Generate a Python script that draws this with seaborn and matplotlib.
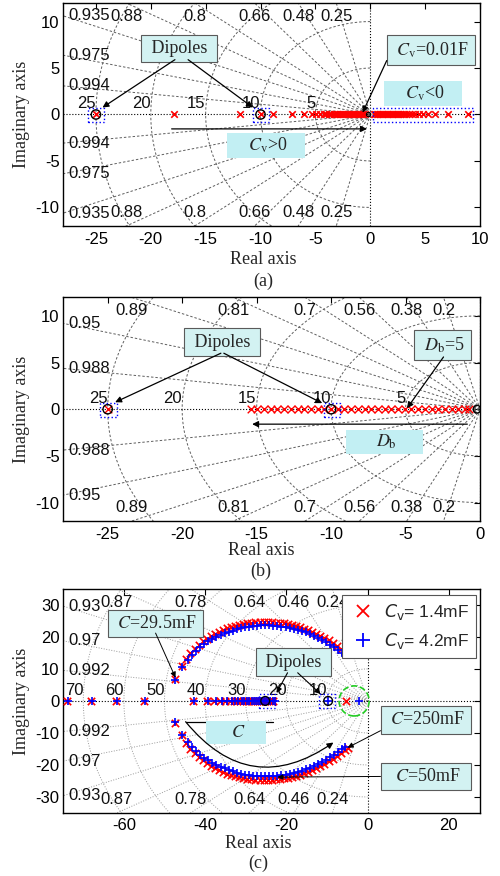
import numpy as np
import matplotlib
matplotlib.use("Agg")
import matplotlib.pyplot as plt
import seaborn as sns
from matplotlib.lines import Line2D
from matplotlib.patches import Rectangle, Ellipse
from matplotlib.font_manager import FontProperties

# ---------------- data ----------------
# (a) pole locus for varying Cv (real poles)
a_locus_left = [-17.9, -11.9, -8.9, -7.1, -6.0, -5.3, -4.9, -4.55, -4.25, -4.0, -3.75,
                -3.55, -3.35, -3.2, -3.05, -2.9, -2.75, -2.6, -2.45, -2.3, -2.15, -2.0,
                -1.85, -1.7, -1.55, -1.4, -1.25, -1.1, -0.95, -0.8, -0.65, -0.5]
a_locus_right = [0.3, 0.45, 0.6, 0.75, 0.9, 1.05, 1.2, 1.35, 1.5, 1.65, 1.8, 1.95, 2.1,
                 2.25, 2.4, 2.55, 2.7, 2.9, 3.1, 3.3, 3.55, 3.8, 4.1, 4.45, 4.85, 5.3,
                 5.9, 7.1, 8.9]
a_dipole_poles = [-25.0, -10.0]
a_dipole_zeros = [-25.0, -10.0]

# (b) pole locus for varying Db
b_locus = [-15.4, -14.95, -14.5, -14.05, -13.6, -13.15, -12.7, -12.25, -11.8, -11.35,
           -10.9, -10.45, -10.0, -9.55, -9.1, -8.65, -8.2, -7.75, -7.3, -6.85, -6.4,
           -5.95, -5.5, -5.05, -4.6, -4.15, -3.7, -3.25, -2.8, -2.35, -1.9, -1.45,
           -1.0, -0.75]
b_dipole_poles = [-25.0]
b_dipole_zeros = [-25.0, -10.0]

# (c) pole locus for varying C, two values of Cv
c_real_red = [-74, -68, -62, -55, -43, -39.5, -37.8, -36.3, -35.0, -33.9, -33.0, -32.2,
              -31.4, -30.7, -30.0, -29.4, -28.8, -28.2, -27.7, -27.2, -26.7, -26.2,
              -25.7, -25.2, -24.7, -24.2, -23.7, -23.2, -5.2]
c_real_blue = [-73.8, -67.8, -61.8, -54.8, -42.8, -39.3, -37.4, -35.9, -34.6, -33.5,
               -32.6, -31.8, -31.0, -30.3, -29.7, -29.1, -28.5, -27.9, -27.4, -26.9,
               -26.4, -25.9, -25.4, -24.9, -24.4, -23.9, -23.4, -22.9, -9.8, -2.0]
c_arc_red_x = [-47.5, -45.8, -44.6, -43.6, -42.6, -41.6, -40.6, -39.6, -38.6, -37.6,
               -36.6, -35.6, -34.6, -33.6, -32.6, -31.6, -30.6, -29.6, -28.6, -27.6,
               -26.6, -25.6, -24.6, -23.6, -22.6, -21.6, -20.6, -19.6, -18.6, -17.6,
               -16.6, -15.6, -14.6, -13.6, -12.6, -11.6, -10.6, -9.6, -8.6, -7.6,
               -6.6, -5.6, -4.9]
c_arc_red_y = [6.8, 10.8, 13.2, 14.9, 16.3, 17.5, 18.6, 19.5, 20.3, 21.0, 21.6, 22.2,
               22.7, 23.1, 23.5, 23.8, 24.1, 24.3, 24.5, 24.6, 24.7, 24.7, 24.7, 24.6,
               24.5, 24.4, 24.2, 24.0, 23.7, 23.4, 23.0, 22.6, 22.1, 21.6, 21.0, 20.4,
               19.7, 18.9, 18.1, 17.2, 16.3, 15.3, 14.6]
c_arc_blue_x = [-47.3, -45.6, -44.3, -43.2, -42.2, -41.2, -40.2, -39.2, -38.2, -37.2,
                -36.2, -35.2, -34.2, -33.2, -32.2, -31.2, -30.2, -29.2, -28.2, -27.2,
                -26.2, -25.2, -24.2, -23.2, -22.2, -21.2, -20.2, -19.2, -18.2, -17.2,
                -16.2, -15.2, -14.2, -13.2, -12.2, -11.2, -10.2, -9.2, -8.2, -7.2,
                -6.2, -5.5]
c_arc_blue_y = [6.6, 10.5, 12.8, 14.4, 15.7, 16.8, 17.8, 18.6, 19.3, 20.0, 20.6, 21.1,
                21.6, 22.0, 22.4, 22.7, 23.0, 23.2, 23.4, 23.5, 23.6, 23.6, 23.6, 23.5,
                23.4, 23.2, 23.0, 22.8, 22.5, 22.2, 21.8, 21.4, 20.9, 20.4, 19.8, 19.1,
                18.4, 17.6, 16.8, 15.9, 15.0, 14.3]
c_dipole_zeros = [-25.2, -9.7]

# sgrid values (damping ratios and natural frequencies)
a_zetas = [0.25, 0.48, 0.66, 0.8, 0.88, 0.935, 0.975, 0.994]
a_wns = [5, 10, 15, 20, 25]
b_zetas = [0.2, 0.38, 0.56, 0.7, 0.81, 0.89, 0.95, 0.988]
b_wns = [5, 10, 15, 20, 25]
c_zetas = [0.24, 0.46, 0.64, 0.78, 0.87, 0.93, 0.97, 0.992]
c_wns = [10, 20, 30, 40, 50, 60, 70]

RED = "#ff0000"
BLUE = "#0000ff"
BOX_FC = "#d3f2f2"
BOX_EC = "#5a5a5a"
TXT_BG = "#c2eff3"
SERIF = "Liberation Serif"
FS_TICK = 12
FS_LAB = 13

sns.set_theme(style="white")
plt.rcParams["font.family"] = ["Liberation Sans", "DejaVu Sans"]
plt.rcParams["mathtext.fontset"] = "stix"
plt.rcParams["axes.unicode_minus"] = False
plt.rcParams["axes.edgecolor"] = "black"
plt.rcParams["axes.linewidth"] = 1.0


def sgrid(ax, zetas, wns, xlim, ylim, ls, color):
    R = 300
    for z in zetas:
        s = np.sqrt(1 - z ** 2)
        ax.plot([0, -z * R], [0, s * R], ls=ls, color=color, lw=0.7, zorder=1)
        ax.plot([0, -z * R], [0, -s * R], ls=ls, color=color, lw=0.7, zorder=1)
        xt = -z / s * ylim[1]
        if xt >= xlim[0]:
            for sgn in (1, -1):
                ax.text(xt, sgn * 0.88 * ylim[1], f"{z:g}", ha="center", va="center",
                        fontsize=FS_TICK, color="#111111", zorder=2)
        else:
            yl = s / z * (-xlim[0])
            for sgn in (1, -1):
                ax.text(xlim[0] + 0.012 * (xlim[1] - xlim[0]), sgn * yl, f"{z:g}",
                        ha="left", va="center", fontsize=FS_TICK, color="#111111",
                        zorder=2)
    t = np.linspace(np.pi / 2, 3 * np.pi / 2, 300)
    for w in wns:
        ax.plot(w * np.cos(t), w * np.sin(t), ls=ls, color=color, lw=0.7, zorder=1)
        ax.text(-w, 0.015 * (ylim[1] - ylim[0]), f"{w:g}", ha="right", va="bottom",
                fontsize=FS_TICK, color="#111111", zorder=2)
    ax.axhline(0, ls=":", color="black", lw=0.8, zorder=1)
    ax.axvline(0, ls=":", color="black", lw=0.8, zorder=1)


def setup(ax, xlim, ylim, xticks, yticks, xlab_pos, ylab_x=-0.078):
    ax.set_xlim(xlim)
    ax.set_ylim(ylim)
    ax.set_xticks(xticks)
    ax.set_yticks(yticks)
    ax.tick_params(direction="in", top=True, right=True, length=4, width=0.8,
                   labelsize=FS_TICK, colors="black")
    ax.tick_params(axis="x", pad=4)
    ax.tick_params(axis="y", pad=2.5)
    ax.set_xlabel("Real axis", family=SERIF, fontsize=FS_LAB)
    ax.set_ylabel("Imaginary axis", family=SERIF, fontsize=FS_LAB)
    ax.xaxis.set_label_coords(*xlab_pos)
    ax.yaxis.set_label_coords(ylab_x, 0.5)
    for sp in ax.spines.values():
        sp.set_visible(True)
        sp.set_color("black")


def box(ax, x, y, s, fs=FS_LAB):
    ax.text(x, y, s, ha="center", va="center", family=SERIF, fontsize=fs, zorder=6,
            bbox=dict(boxstyle="square,pad=0.3", fc=BOX_FC, ec=BOX_EC, lw=0.8))


def bgtext(ax, x, y, s, padx=0.15, fs=FS_LAB):
    ax.text(x, y, s, ha="center", va="center", family=SERIF, fontsize=fs, zorder=6,
            bbox=dict(boxstyle=f"square,pad={padx}", fc=TXT_BG, ec="none"))


def arrow(ax, start, end, lw=0.9, ms=9, rad=0.0):
    ax.annotate("", xy=end, xytext=start, zorder=7,
                arrowprops=dict(arrowstyle="-|>", color="black", lw=lw,
                                mutation_scale=ms, shrinkA=0, shrinkB=0,
                                connectionstyle=f"arc3,rad={rad}"))


def dotted_rect(ax, x0, x1, y0, y1):
    ax.add_patch(Rectangle((x0, y0), x1 - x0, y1 - y0, fill=False, ec=BLUE,
                           ls=":", lw=1.0, zorder=5))


fig = plt.figure(figsize=(5, 8.76), dpi=100)

# ---------------- (a) ----------------
ax = fig.add_axes([0.126, 0.742, 0.834, 0.2546])
xlim, ylim = (-28, 10), (-12, 12)
sgrid(ax, a_zetas, a_wns, xlim, ylim, (0, (2.5, 2)), "#5e5e5e")
pts = a_locus_left + a_locus_right
sns.scatterplot(x=pts, y=[0] * len(pts), marker="x", color=RED, s=22, linewidth=1.2,
                ax=ax, zorder=4)
sns.scatterplot(x=a_dipole_poles, y=[0, 0], marker="x", color=RED, s=22, linewidth=1.2,
                ax=ax, zorder=4)
sns.scatterplot(x=a_dipole_zeros, y=[0, 0], marker="o", facecolor="none",
                edgecolor="black", s=45, linewidth=1.0, ax=ax, zorder=5)
sns.scatterplot(x=[-0.15], y=[0], marker="o", facecolor="none", edgecolor="black",
                s=10, linewidth=0.8, ax=ax, zorder=5)
setup(ax, xlim, ylim, range(-25, 11, 5), range(-10, 11, 5), (0.48, -0.11))
dotted_rect(ax, -25.7, -24.3, -0.85, 0.75)
dotted_rect(ax, -10.7, -9.2, -0.85, 0.75)
dotted_rect(ax, 0.25, 9.4, -0.85, 0.75)
box(ax, -17.4, 7.1, " Dipoles ")
arrow(ax, (-17.8, 5.9), (-24.4, 0.75))
arrow(ax, (-16.6, 5.9), (-10.7, 0.75))
box(ax, 5.5, 6.9, r" $C_{\rm v}$=0.01F ")
arrow(ax, (1.5, 5.8), (-0.7, 0.2))
bgtext(ax, 4.8, 2.3, r"    $C_{\rm v}$<0    ")
arrow(ax, (-18.1, -1.55), (-0.3, -1.55))
bgtext(ax, -9.5, -3.3, r"    $C_{\rm v}$>0    ")
fig.text(263 / 500, 1 - 281 / 876, "(a)", ha="center", va="center", family=SERIF,
         fontsize=FS_LAB)

# ---------------- (b) ----------------
ax = fig.add_axes([0.126, 0.405, 0.834, 0.2557])
xlim, ylim = (-28, 0), (-12, 12)
sgrid(ax, b_zetas, b_wns, xlim, ylim, (0, (2.5, 2)), "#5e5e5e")
sns.scatterplot(x=b_locus, y=[0] * len(b_locus), marker="x", color=RED, s=30,
                linewidth=1.0, ax=ax, zorder=4)
sns.scatterplot(x=b_dipole_poles, y=[0], marker="x", color=RED, s=30, linewidth=1.0,
                ax=ax, zorder=4)
sns.scatterplot(x=b_dipole_zeros, y=[0, 0], marker="o", facecolor="none",
                edgecolor="black", s=45, linewidth=1.0, ax=ax, zorder=5)
sns.scatterplot(x=[-0.2], y=[0], marker="o", facecolor="none", edgecolor="black",
                s=30, linewidth=1.0, ax=ax, zorder=5)
setup(ax, xlim, ylim, range(-25, 1, 5), range(-10, 11, 5), (0.475, -0.094))
dotted_rect(ax, -25.5, -24.4, -0.85, 0.65)
dotted_rect(ax, -10.5, -9.4, -0.85, 0.65)
box(ax, -17.3, 7.2, " Dipoles ")
arrow(ax, (-17.4, 6.0), (-24.5, 0.75))
arrow(ax, (-17.2, 6.0), (-10.6, 0.65))
box(ax, -2.5, 6.9, r" $D_{\rm b}$=5 ")
arrow(ax, (-2.45, 5.6), (-4.9, 0.1))
arrow(ax, (-0.85, -1.6), (-15.3, -1.6))
bgtext(ax, -6.4, -3.5, r"      $D_{\rm b}$      ")
fig.text(261 / 500, 1 - 571 / 876, "(b)", ha="center", va="center", family=SERIF,
         fontsize=FS_LAB)

# ---------------- (c) ----------------
ax = fig.add_axes([0.126, 0.072, 0.834, 0.2557])
xlim, ylim = (-75, 27.7), (-35, 35)
sgrid(ax, c_zetas, c_wns, xlim, ylim, ":", "#9a9a9a")
for xs, ys in ((c_arc_red_x, c_arc_red_y), (c_arc_red_x, [-v for v in c_arc_red_y]),
               (c_real_red, [0] * len(c_real_red))):
    sns.scatterplot(x=xs, y=ys, marker="x", color=RED, s=28, linewidth=1.2, ax=ax,
                    zorder=4)
for xs, ys in ((c_arc_blue_x, c_arc_blue_y), (c_arc_blue_x, [-v for v in c_arc_blue_y]),
               (c_real_blue, [0] * len(c_real_blue))):
    sns.scatterplot(x=xs, y=ys, marker="+", color=BLUE, s=40, linewidth=1.2, ax=ax,
                    zorder=4)
sns.scatterplot(x=c_dipole_zeros, y=[0, 0], marker="o", facecolor="none",
                edgecolor="black", s=40, linewidth=1.0, ax=ax, zorder=5)
setup(ax, xlim, ylim, range(-60, 21, 20), range(-30, 31, 10), (0.468, -0.098))
dotted_rect(ax, -26.8, -22.9, -2.2, 2.2)
dotted_rect(ax, -12.0, -7.9, -2.2, 2.2)
ax.add_patch(Ellipse((-3.3, 0), 7.4, 9.4, fill=False, ec="#22cc22", ls="--", lw=1.2,
                     zorder=5))
box(ax, -52.2, 24.2, r" $C$=29.5mF ")
arrow(ax, (-52.2, 21.2), (-47.3, 7.3), lw=0.7, ms=8)
box(ax, -18.2, 12.1, " Dipoles ")
arrow(ax, (-19.7, 8.8), (-22.4, 2.5), lw=0.8, ms=8)
arrow(ax, (-17.2, 8.8), (-11.6, 2.2), lw=0.8, ms=8)
box(ax, 14.4, -5.9, r" $C$=250mF ")
arrow(ax, (3.2, -9.3), (-4.9, -14.6), lw=0.7, ms=8)
box(ax, 14.4, -23.6, r"  $C$=50mF  ")
arrow(ax, (3.2, -23.6), (-22.2, -23.8), lw=0.7, ms=8)
ax.plot([-44.8, -23.2], [-6.5, -6.5], color="black", lw=0.9, zorder=6)
arrow(ax, (-44.8, -6.5), (-8.4, -13.0), lw=0.9, ms=9, rad=0.46)
bgtext(ax, -32.3, -9.9, r"     $C$     ")

handles = [Line2D([], [], marker="x", color=RED, ls="none", markersize=8, mew=1.3),
           Line2D([], [], marker="+", color=BLUE, ls="none", markersize=10, mew=1.3)]
leg_font = FontProperties(family="Liberation Sans", size=12.5, math_fontfamily="dejavusans")
leg = ax.legend(handles, [r"$C_{\rm v}$= 1.4mF", r"$C_{\rm v}$= 4.2mF"],
                loc="upper right", bbox_to_anchor=(0.99, 0.973), borderaxespad=0,
                prop=leg_font, frameon=True, fancybox=False, framealpha=1,
                edgecolor="#555555", handletextpad=0.4, borderpad=0.4,
                labelspacing=0.5, handlelength=1.6)
leg.get_frame().set_linewidth(0.8)
leg.set_zorder(8)
fig.text(258 / 500, 1 - 863 / 876, "(c)", ha="center", va="center", family=SERIF,
         fontsize=FS_LAB)

fig.savefig("out.png", dpi=100)
plt.close(fig)
